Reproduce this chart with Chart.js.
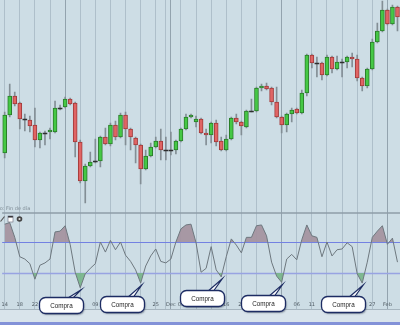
<!DOCTYPE html>
<html>
<head>
<meta charset="utf-8">
<script src="https://cdn.jsdelivr.net/npm/chart.js@4.4.1/dist/chart.umd.min.js"></script>
<style>
  html, body { margin: 0; padding: 0; background: #cddde5; }
  #wrap { width: 400px; height: 325px; }
</style>
</head>
<body>
<div id="wrap"><canvas id="chart" width="400" height="325"></canvas></div>
<script>
// daily candles, oldest first
const opens = [
  67, 105, 124, 117, 101, 100, 95, 80, 87, 88,
  88, 112, 113, 121, 117, 78, 39, 54, 59, 59,
  83, 76, 95, 83, 105, 91, 82, 75, 51, 64,
  73, 79, 70, 70, 70, 79, 91, 103, 98, 101,
  87, 85, 97, 79, 70, 81, 102, 98, 93, 109,
  109, 132, 134, 132, 118, 103, 95, 106, 111, 107,
  127, 165, 157, 157, 145, 163, 151, 158, 158, 163,
  161, 142, 134, 151, 178, 189, 210, 196, 213
];
const highs = [
  108, 136, 128, 118, 106, 104, 112, 88, 89, 92,
  119, 115, 123, 122, 118, 80, 56, 68, 81, 84,
  92, 97, 99, 107, 108, 92, 83, 76, 70, 77,
  83, 91, 83, 88, 80, 92, 106, 106, 104, 102,
  91, 98, 100, 83, 85, 103, 106, 99, 110, 121,
  133, 136, 137, 133, 133, 104, 107, 112, 112, 130,
  166, 166, 163, 158, 165, 164, 164, 161, 164, 167,
  165, 143, 152, 181, 197, 219, 211, 215, 214
];
const lows = [
  62, 103, 114, 91, 89, 88, 73, 72, 75, 81,
  87, 110, 112, 115, 63, 37, 17, 53, 57, 53,
  75, 74, 80, 82, 75, 70, 57, 36, 50, 63,
  72, 60, 60, 65, 66, 78, 90, 102, 93, 86,
  75, 77, 74, 69, 69, 80, 96, 85, 92, 108,
  108, 129, 130, 115, 102, 87, 88, 98, 106, 106,
  124, 152, 143, 140, 144, 147, 150, 143, 152, 153,
  139, 129, 132, 150, 177, 188, 195, 195, 189
];
const closes = [
  105, 124, 116, 101, 101, 94, 80, 87, 87, 90,
  112, 112, 121, 116, 78, 39, 54, 58, 59, 83,
  76, 95, 83, 105, 91, 83, 75, 51, 64, 73,
  79, 70, 70, 70, 79, 91, 103, 105, 101, 87,
  85, 97, 78, 70, 81, 102, 98, 94, 109, 109,
  132, 134, 131, 118, 103, 95, 106, 110, 107, 127,
  165, 157, 157, 145, 163, 151, 158, 158, 163, 161,
  142, 134, 151, 178, 189, 210, 196, 213, 203
];

// oscillator, one value per candle
const stoch = [
  93, 95, 76, 51, 48, 42, 22, 40, 43, 48,
  83, 84, 91, 67, 31, 11, 29, 36, 42, 70,
  57, 72, 60, 70, 53, 45, 34, 17, 39, 52,
  61, 45, 43, 48, 70, 87, 92, 93, 69, 31,
  36, 64, 34, 25, 51, 74, 66, 56, 76, 76,
  91, 92, 78, 44, 26, 18, 48, 54, 47, 73,
  92, 78, 76, 51, 70, 52, 60, 61, 69, 64,
  29, 17, 44, 76, 84, 91, 67, 75, 44
];
const upperLevel = 70;
const lowerLevel = 30;

// date ticks (candle index -> text)
const tickAt = [0, 3, 6, 9, 12, 15, 18, 21, 24, 27, 30, 32, 33, 35, 38, 41, 44, 47, 50, 55, 58, 61, 64, 67, 70, 73, 76];
const tickText = ['14', '18', '22', '26', 'Nov', '05', '09', '13', '17', '21', '25', '', 'Dec', '03', '07', '11', '16', '20', '24', 'Jan', '06', '11', '15', '19', '23', '27', 'Feb'];
const monthAt = [12, 33, 55, 76];

// buy signals marked on the oscillator
const buyAt = [15, 27, 43, 55, 71];
const buyText = 'Compra';

const labels = opens.map((_, i) => {
  const k = tickAt.indexOf(i);
  return k >= 0 ? tickText[k] : '';
});
const isUp = (i) => closes[i] > opens[i];
const isDoji = (i) => closes[i] === opens[i];

function roundRect(ctx, x, y, w, h, r) {
  ctx.beginPath();
  ctx.moveTo(x + r, y);
  ctx.arcTo(x + w, y, x + w, y + h, r);
  ctx.arcTo(x + w, y + h, x, y + h, r);
  ctx.arcTo(x, y + h, x, y, r);
  ctx.arcTo(x, y, x + w, y, r);
  ctx.closePath();
}

const panes = {
  id: 'panes',
  beforeDraw(chart) {
    const { ctx, width, height, chartArea } = chart;
    ctx.save();
    ctx.fillStyle = '#cddde5';
    ctx.fillRect(0, 0, width, height);
    // status strip below the panes
    ctx.fillStyle = '#d9e4eb';
    ctx.fillRect(0, chartArea.bottom, width, height - chartArea.bottom);
    ctx.fillStyle = '#8392d8';
    ctx.fillRect(0, height - 3, width, 3);
    ctx.strokeStyle = '#a6b5bf';
    ctx.lineWidth = 1;
    ctx.beginPath();
    ctx.moveTo(0, chartArea.bottom + 0.5);
    ctx.lineTo(width, chartArea.bottom + 0.5);
    ctx.stroke();
    ctx.restore();
  },
  beforeDatasetsDraw(chart) {
    const { ctx, chartArea } = chart;
    const osc = chart.scales.osc;
    ctx.save();
    // divider between price pane and oscillator pane
    ctx.strokeStyle = '#8e9da7';
    ctx.lineWidth = 1.5;
    ctx.beginPath();
    ctx.moveTo(chartArea.left, 213);
    ctx.lineTo(chartArea.right, 213);
    ctx.stroke();
    // overbought / oversold levels
    ctx.lineWidth = 1;
    ctx.strokeStyle = '#7381e2';
    let y = Math.round(osc.getPixelForValue(upperLevel)) + 0.5;
    ctx.beginPath(); ctx.moveTo(chartArea.left, y); ctx.lineTo(chartArea.right, y); ctx.stroke();
    ctx.strokeStyle = '#98a3e2';
    ctx.lineWidth = 1.5;
    y = Math.round(osc.getPixelForValue(lowerLevel)) + 0.5;
    ctx.beginPath(); ctx.moveTo(chartArea.left, y); ctx.lineTo(chartArea.right, y); ctx.stroke();
    ctx.restore();
  },
  afterDraw(chart) {
    const { ctx } = chart;
    const x = chart.scales.x;
    const osc = chart.scales.osc;
    ctx.save();

    // pane caption and toolbar icons
    ctx.fillStyle = '#7d8b94';
    ctx.font = '5px "DejaVu Sans"';
    ctx.textBaseline = 'alphabetic';
    ctx.fillText('co: Fin de día', -3, 210);
    ctx.strokeStyle = '#555';
    ctx.lineWidth = 1.2;
    ctx.beginPath(); ctx.moveTo(0.5, 221.5); ctx.lineTo(4.5, 216.5); ctx.stroke();
    ctx.fillStyle = '#fff';
    ctx.fillRect(8, 216, 5, 6);
    ctx.fillStyle = '#222';
    ctx.fillRect(8, 216, 5, 1.5);
    ctx.strokeStyle = '#667';
    ctx.lineWidth = 0.6;
    ctx.strokeRect(8, 216, 5, 6);
    ctx.fillStyle = '#444';
    ctx.beginPath(); ctx.arc(19.5, 219, 2.8, 0, Math.PI * 2); ctx.fill();
    ctx.fillStyle = '#ddd';
    ctx.beginPath(); ctx.arc(19.5, 219, 1.1, 0, Math.PI * 2); ctx.fill();

    // "Compra" callouts
    buyAt.forEach((i) => {
      const px = x.getPixelForValue(i);
      const py = osc.getPixelForValue(stoch[i]);
      const w = 44, h = 16;
      const left = Math.round(px - 41) + 0.5;
      const top = Math.round(Math.min(297, py + 13)) + 0.5;

      ctx.fillStyle = '#ffffff';
      ctx.strokeStyle = '#1d2c63';
      ctx.lineWidth = 1.2;
      ctx.beginPath();
      ctx.moveTo(left + 26, top + 2);
      ctx.lineTo(px + 1, py + 2);
      ctx.lineTo(left + 32, top + 2);
      ctx.closePath();
      ctx.fill();
      ctx.stroke();

      ctx.save();
      ctx.shadowColor = 'rgba(40,50,70,0.45)';
      ctx.shadowOffsetX = 1;
      ctx.shadowOffsetY = 1.5;
      ctx.shadowBlur = 1.5;
      roundRect(ctx, left, top, w, h, 6);
      ctx.fillStyle = '#ffffff';
      ctx.fill();
      ctx.restore();
      roundRect(ctx, left, top, w, h, 6);
      ctx.strokeStyle = '#1d2c63';
      ctx.lineWidth = 1.3;
      ctx.stroke();

      ctx.fillStyle = '#1e1e1e';
      ctx.font = '6.3px "Liberation Sans"';
      ctx.textAlign = 'center';
      ctx.textBaseline = 'middle';
      ctx.fillText(buyText, left + w / 2, top + h / 2 + 0.5);
    });
    ctx.restore();
  }
};

new Chart(document.getElementById('chart'), {
  type: 'bar',
  data: {
    labels,
    datasets: [
      {
        label: 'body',
        yAxisID: 'price',
        data: opens.map((o, i) => [o, closes[i]]),
        grouped: false,
        order: 1,
        barThickness: 4,
        minBarLength: 1,
        borderSkipped: false,
        borderWidth: (c) => (isDoji(c.dataIndex) ? 0 : 1),
        backgroundColor: (c) => (isDoji(c.dataIndex) ? '#2e2e2e' : isUp(c.dataIndex) ? '#45c845' : '#e06464'),
        borderColor: (c) => (isUp(c.dataIndex) ? '#2a7d2a' : '#a23a3a'),
      },
      {
        label: 'wick',
        yAxisID: 'price',
        data: lows.map((l, i) => [l, highs[i]]),
        grouped: false,
        order: 2,
        barThickness: 1,
        borderWidth: 0,
        backgroundColor: '#838e95',
      },
      {
        type: 'line',
        label: 'stoch',
        yAxisID: 'osc',
        data: stoch,
        order: 0,
        borderColor: '#6e787f',
        borderWidth: 1,
        pointRadius: 0,
        tension: 0,
        fill: { target: { value: upperLevel }, above: 'rgba(164,148,160,0.95)', below: 'rgba(0,0,0,0)' },
      },
      {
        type: 'line',
        label: 'oversold',
        yAxisID: 'osc',
        data: stoch,
        order: 0,
        borderWidth: 0,
        borderColor: 'rgba(0,0,0,0)',
        pointRadius: 0,
        tension: 0,
        fill: { target: { value: lowerLevel }, above: 'rgba(0,0,0,0)', below: 'rgba(122,182,140,0.95)' },
      },
    ],
  },
  options: {
    responsive: false,
    animation: false,
    events: [],
    layout: { padding: { left: 0, right: 0, top: 0, bottom: 13 } },
    plugins: { legend: { display: false }, tooltip: { enabled: false } },
    scales: {
      x: {
        offset: true,
        border: { display: false },
        grid: {
          offset: false,
          drawTicks: false,
          lineWidth: 1,
          color: (c) => {
            if (!tickAt.includes(c.index)) return 'rgba(0,0,0,0)';
            return monthAt.includes(c.index) ? '#93a3ae' : '#aebfca';
          },
        },
        ticks: {
          autoSkip: false,
          maxRotation: 0,
          mirror: true,
          padding: 1.5,
          color: '#4d5961',
          font: { family: 'DejaVu Sans', size: 5 },
        },
      },
      price: { type: 'linear', display: false, min: -89, max: 220 },
      osc: { type: 'linear', display: false, min: -16.45, max: 382.26 },
    },
  },
  plugins: [panes],
});
</script>
</body>
</html>
